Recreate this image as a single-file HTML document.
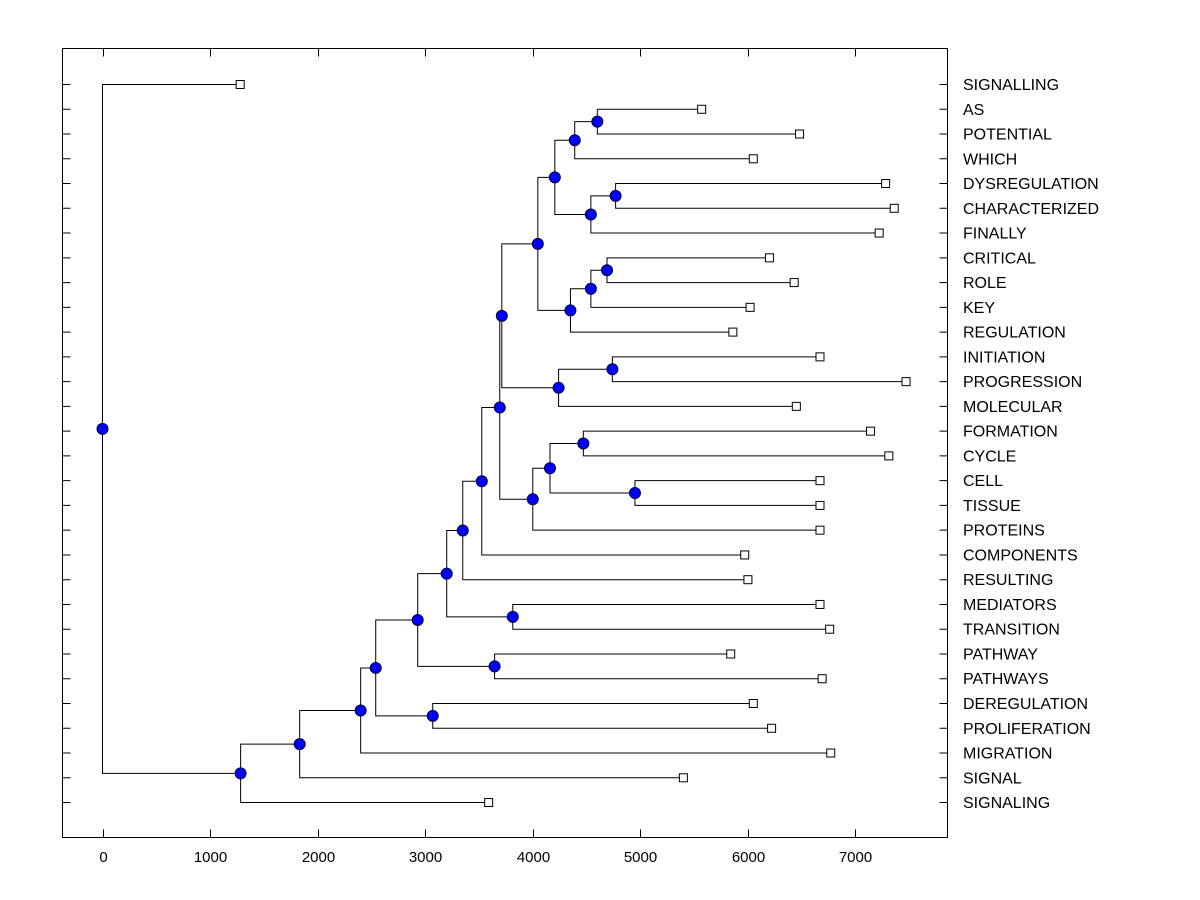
<!DOCTYPE html>
<html><head><meta charset="utf-8"><style>
html,body{margin:0;padding:0;background:#fff;}
svg{display:block;font-family:"Liberation Sans",Arial,sans-serif;}
</style></head><body>
<svg id="chart" width="1200" height="900" viewBox="0 0 1200 900">
<rect x="0" y="0" width="1200" height="900" fill="#fff"/>
<g id="links"></g>
<g id="marks"></g>
<rect x="62.5" y="48.5" width="885" height="789" fill="none" stroke="#000" stroke-width="1"/>
<g id="axes"></g>
</svg>
<script>
const leafLabels = ["SIGNALLING","AS","POTENTIAL","WHICH","DYSREGULATION","CHARACTERIZED","FINALLY","CRITICAL","ROLE","KEY","REGULATION","INITIATION","PROGRESSION","MOLECULAR","FORMATION","CYCLE","CELL","TISSUE","PROTEINS","COMPONENTS","RESULTING","MEDIATORS","TRANSITION","PATHWAY","PATHWAYS","DEREGULATION","PROLIFERATION","MIGRATION","SIGNAL","SIGNALING"];
const leafValues = [1280,5570,6480,6050,7280,7360,7220,6200,6430,6020,5860,6670,7470,6450,7140,7310,6670,6670,6670,5970,6000,6670,6760,5840,6690,6050,6220,6770,5400,3590];
const mergeA = ["AS","N0","DYSREGULATION","N2","CRITICAL","N4","N5","INITIATION","N7","N1","N9","FORMATION","CELL","N11","N13","N10","N15","N16","N17","MEDIATORS","N18","PATHWAY","N20","DEREGULATION","N22","N24","SIGNAL","N26","SIGNALLING"];
const mergeB = ["POTENTIAL","WHICH","CHARACTERIZED","FINALLY","ROLE","KEY","REGULATION","PROGRESSION","MOLECULAR","N3","N6","CYCLE","TISSUE","N12","PROTEINS","N8","N14","COMPONENTS","RESULTING","TRANSITION","N19","PATHWAYS","N21","PROLIFERATION","N23","MIGRATION","N25","SIGNALING","N27"];
const mergeValues = [4600,4390,4770,4540,4690,4540,4350,4740,4240,4205,4047,4470,4950,4160,4000,3712,3693,3526,3349,3814,3200,3645,2930,3070,2540,2400,1833,1284,0];
const xTicks = [0,1000,2000,3000,4000,5000,6000,7000];

const NS="http://www.w3.org/2000/svg";
const X0=102.5, SX=0.10757;
const xs=v=>X0+v*SX;
const Y0=84.5, DY=24.76;
const ys=i=>Y0+i*DY;
function mk(tag,attrs,parent){const e=document.createElementNS(NS,tag);for(const k in attrs)e.setAttribute(k,attrs[k]);parent.appendChild(e);return e;}
const links=document.getElementById('links'), marks=document.getElementById('marks'), axes=document.getElementById('axes');
const pos={};
leafLabels.forEach((l,i)=>{pos[l]={x:xs(leafValues[i]),y:ys(i)};});
const nM=mergeA.length;
for(let k=0;k<nM;k++){
  const a=pos[mergeA[k]], b=pos[mergeB[k]];
  if(!a||!b) continue;
  const x=xs(mergeValues[k]), y=(a.y+b.y)/2;
  pos['N'+k]={x,y};
  const p=mk('path',{d:`M${a.x},${a.y}H${x}V${b.y}H${b.x}`,fill:'none',stroke:'#000','stroke-width':1},links);
  
  
}
for(let k=0;k<nM;k++){
  if(!pos['N'+k]) continue;
  const c=mk('circle',{cx:pos['N'+k].x,cy:pos['N'+k].y,r:5.5,fill:'#0000ff',stroke:'#000033','stroke-width':1},marks);
  
  
}
leafLabels.forEach((l,i)=>{
  const r=mk('rect',{x:pos[l].x-4,y:pos[l].y-4,width:8,height:8,fill:'#fff',stroke:'#000','stroke-width':1},marks);
  
  
  const t=mk('text',{x:963,y:ys(i)+5.5,'font-size':16,fill:'#000'},axes);
  t.textContent=l;
  
  
  const tl=mk('path',{d:`M62.5,${ys(i)}H70.5M939.5,${ys(i)}H947.5`,stroke:'#000','stroke-width':1},axes);
  
  
});
xTicks.forEach(v=>{
  const x=Math.round(xs(v))+0.5;
  const tl=mk('path',{d:`M${x},837.5V829.5M${x},48.5V56.5`,stroke:'#000','stroke-width':1},axes);
  
  
  const t=mk('text',{x:x,y:862,'font-size':15,'text-anchor':'middle',fill:'#000'},axes);
  t.textContent=String(v);
  
  
});
</script>
</body></html>
